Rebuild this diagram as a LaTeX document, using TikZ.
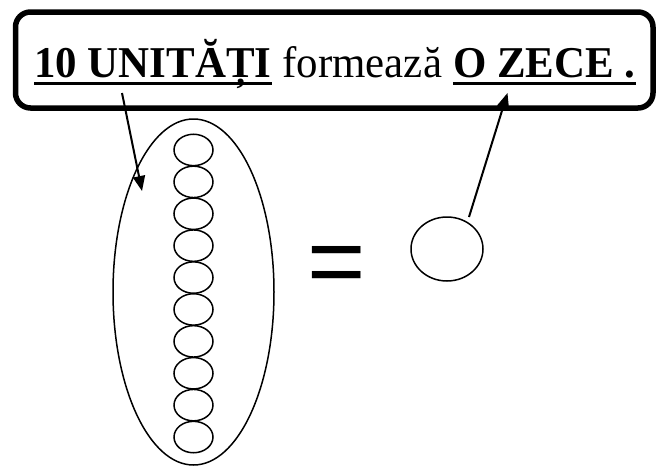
\documentclass[tikz,border=0pt]{standalone}
\usepackage{fontspec}
\setmainfont[FakeStretch=0.975]{Liberation Serif}
\newfontfamily\eqfont{Liberation Sans}
\usetikzlibrary{arrows.meta,shapes.geometric}

\tikzset{
  txt/.style={inner sep=0pt, anchor=base west, font=\fontsize{44}{50}\selectfont},
  uline/.style={line width=3pt},
  unitbead/.style={ellipse, draw, line width=1.5pt, minimum width=39pt, minimum height=31.4pt, inner sep=0pt},
  pointer/.style={line width=2pt, -{Triangle[length=15pt,width=12pt]}}
}

\begin{document}
\begin{tikzpicture}[x=1pt,y=-1pt]
\useasboundingbox (0,0) rectangle (657,466);
% caption box
\draw[line width=5.5pt, rounded corners=15pt] (15.5,12) rectangle (653,108);
\node[txt] (t10) at (34,77) {\textbf{10 UNITĂȚI}};
\node[txt, xshift=10.7pt] (tform) at (t10.base east) {formează};
\node[txt, xshift=10.7pt] (tzece) at (tform.base east) {\textbf{O ZECE .}};
\draw[uline] ([yshift=-6pt]t10.base west) -- ([yshift=-6pt]t10.base east);
\draw[uline] ([yshift=-6pt]tzece.base west) -- ([yshift=-6pt]tzece.base east);

% ten units
\node[ellipse, draw, line width=1.5pt, minimum width=161pt, minimum height=346pt, inner sep=0pt] (grp) at (193.5,292) {};
\foreach \i in {1,...,10}
  \node[unitbead] (u\i) at (193.5,{149.95+31.9*(\i-1)}) {};

% equals and one ten
\node[inner sep=0pt, anchor=base west, font=\eqfont\fontsize{100}{100}\selectfont] (eq) at (307,295.5) {=};
\node[ellipse, draw, line width=1.5pt, minimum width=72pt, minimum height=64pt, inner sep=0pt] (ten) at (447,249) {};

% pointers
\coordinate (p1s) at (122,93);
\coordinate (p1e) at (142,191);
\coordinate (p2s) at (469,217);
\coordinate (p2e) at (507.5,93);
\draw[pointer] (p1s) -- (p1e);
\draw[pointer] (p2s) -- (p2e);
\end{tikzpicture}
\end{document}
